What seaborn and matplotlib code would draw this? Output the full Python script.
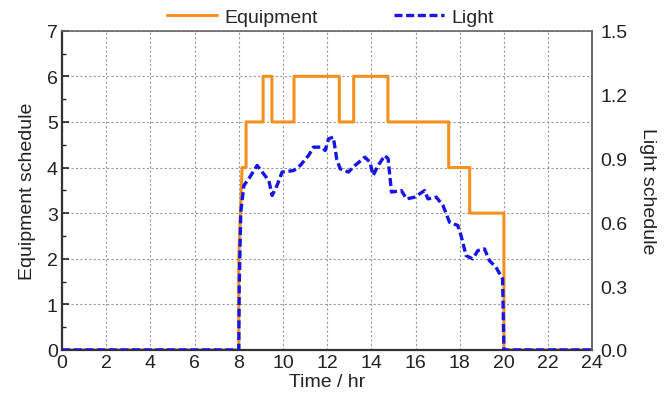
import matplotlib
matplotlib.use("Agg")
import matplotlib.pyplot as plt
from matplotlib.ticker import MultipleLocator
import seaborn as sns
import pandas as pd

sns.set_theme(style="white")
plt.rcParams["font.family"] = ["Liberation Sans", "DejaVu Sans"]

# Equipment schedule (step profile over the day)
eq_time = [0, 8, 8, 8.15, 8.33, 8.33, 9.1, 9.1, 9.5, 9.5, 10.5, 10.5, 12.55, 12.55,
           13.2, 13.2, 14.75, 14.75, 17.5, 17.5, 18.45, 18.45, 20, 20, 24]
eq_value = [0, 0, 2, 4, 4, 5, 5, 6, 6, 5, 5, 6, 6, 5,
            5, 6, 6, 5, 5, 4, 4, 3, 3, 0, 0]

# Lighting schedule (fraction)
light_time = [0, 8, 8.02, 8.09, 8.23, 8.45, 8.83, 9.06, 9.36, 9.51, 9.73, 9.96, 10.48,
              10.78, 11.16, 11.38, 11.76, 11.91, 12.06, 12.28, 12.43, 12.59, 12.96,
              13.26, 13.71, 13.94, 14.08, 14.31, 14.61, 14.76, 14.91, 15.36, 15.59,
              15.96, 16.41, 16.56, 16.94, 17.24, 17.54, 17.91, 18.06, 18.29, 18.59,
              18.82, 19.12, 19.34, 19.64, 19.94, 20, 24]
light_value = [0, 0, 0.30, 0.647, 0.773, 0.804, 0.867, 0.836, 0.796, 0.726, 0.773, 0.836,
               0.843, 0.867, 0.914, 0.953, 0.953, 0.937, 0.992, 1.0, 0.898, 0.851, 0.836,
               0.867, 0.906, 0.882, 0.820, 0.867, 0.914, 0.898, 0.742, 0.749, 0.710,
               0.718, 0.749, 0.710, 0.718, 0.679, 0.600, 0.585, 0.537, 0.443, 0.428,
               0.467, 0.475, 0.420, 0.389, 0.334, 0.0, 0.0]

x_ticks = list(range(0, 25, 2))
left_ticks = list(range(0, 8))
right_ticks = [0.0, 0.3, 0.6, 0.9, 1.2, 1.5]

ORANGE = "#F7901E"
BLUE = "#1515E6"
TEXT = "#222222"
FS = 14

eq_df = pd.DataFrame({"time": eq_time, "value": eq_value})
light_df = pd.DataFrame({"time": light_time, "value": light_value})

fig = plt.figure(figsize=(6.67, 4.02), dpi=100)
ax = fig.add_axes([0.093, 0.127, 0.795, 0.794])
ax2 = ax.twinx()

sns.lineplot(data=eq_df, x="time", y="value", ax=ax, sort=False, estimator=None,
             color=ORANGE, linewidth=2.2, label="Equipment", legend=False)
sns.lineplot(data=light_df, x="time", y="value", ax=ax2, sort=False, estimator=None,
             color=BLUE, linewidth=2.4, linestyle="--", label="Light", legend=False)
light_line = ax2.lines[0]
light_line.set_dashes((2.4, 1.1))

ax.set_xlim(0, 24)
ax.set_ylim(0, 7)
ax2.set_ylim(0, 1.5)
ax.set_xticks(x_ticks)
ax.set_yticks(left_ticks)
ax2.set_yticks(right_ticks)
ax2.set_yticklabels([f"{v:.1f}" for v in right_ticks])
ax.xaxis.set_minor_locator(MultipleLocator(1))
ax.yaxis.set_minor_locator(MultipleLocator(0.5))

ax.grid(True, which="major", color="#9a9a9a", linestyle=(0, (2, 2)), linewidth=0.8)
ax.set_axisbelow(True)

ax.tick_params(axis="both", which="major", direction="in", length=5, width=1.2,
               labelsize=FS, colors=TEXT, top=False, right=False, pad=3)
ax.tick_params(axis="both", which="minor", direction="in", length=3, width=1.0,
               top=False, right=False, colors=TEXT)
ax2.tick_params(axis="y", which="both", length=0, labelsize=FS,
                colors=TEXT, pad=6)

ax.set_xlabel("Time / hr", fontsize=FS, color=TEXT, labelpad=1)
ax.set_ylabel("Equipment schedule", fontsize=FS, color=TEXT, labelpad=8)
ax2.set_ylabel("Light schedule", fontsize=FS, color=TEXT, rotation=270,
               labelpad=20)

for name, sp in ax.spines.items():
    sp.set_visible(True)
    if name in ("left", "bottom"):
        sp.set_color("#333333")
        sp.set_linewidth(1.6)
    else:
        sp.set_color("#666666")
        sp.set_linewidth(1.2)
for name, sp in ax2.spines.items():
    sp.set_visible(False)
ax2.spines["right"].set_visible(True)
ax2.spines["right"].set_color("#666666")
ax2.spines["right"].set_linewidth(1.2)

handles = [ax.lines[0], light_line]
fig.legend(handles, ["Equipment", "Light"], loc="upper center",
           bbox_to_anchor=(0.495, 1.02), ncol=2, frameon=False, fontsize=FS,
           handlelength=2.6, columnspacing=3.9, handletextpad=0.35)

fig.savefig("out.png", dpi=100)
